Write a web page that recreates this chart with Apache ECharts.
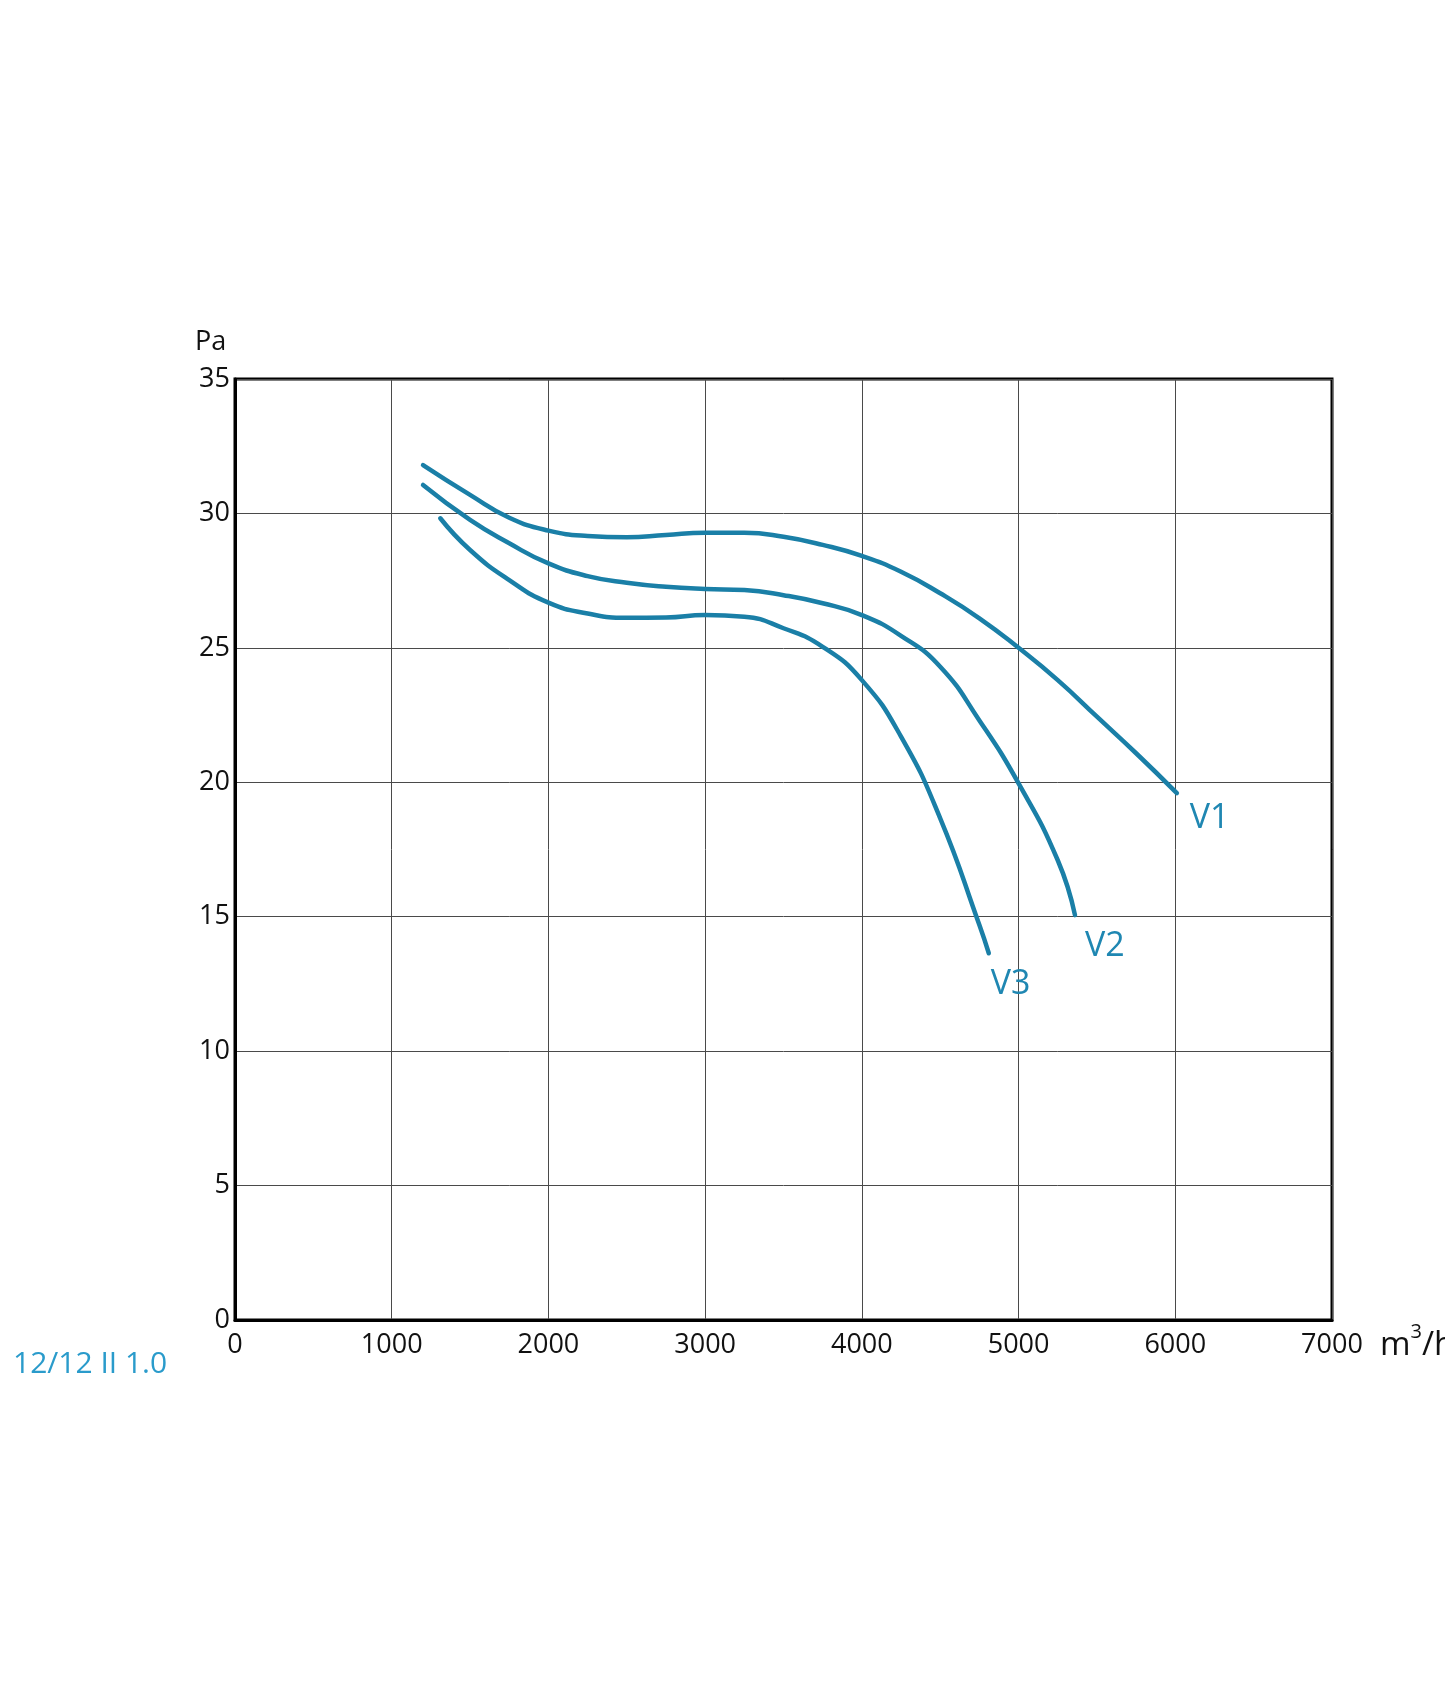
<!DOCTYPE html>
<html>
<head>
<meta charset="utf-8">
<script src="https://cdn.jsdelivr.net/npm/echarts@6/dist/echarts.min.js"></script>
<style>
html,body{margin:0;padding:0;background:#fff;}
#chart{width:1445px;height:1702px;}
</style>
</head>
<body>
<div id="chart"></div>
<script>
// Airflow (m3/h) and pressure (Pa)
const v1Flow = [1200, 1500, 1750, 2000, 2250, 2500, 2750, 3000, 3250, 3500, 3750, 4000, 4250, 4500, 4750, 5000, 5250, 5500, 5750, 6010];
const v1Pa   = [31.8, 30.69, 29.84, 29.36, 29.16, 29.11, 29.2, 29.28, 29.28, 29.13, 28.83, 28.42, 27.83, 27.03, 26.1, 25.0, 23.8, 22.44, 21.08, 19.6];
const v2Flow = [1200, 1500, 1750, 2000, 2250, 2500, 2750, 3000, 3250, 3500, 3750, 4000, 4250, 4500, 4750, 5000, 5250, 5360];
const v2Pa   = [31.06, 29.76, 28.89, 28.14, 27.67, 27.42, 27.27, 27.19, 27.15, 26.96, 26.66, 26.22, 25.45, 24.3, 22.3, 19.96, 17.1, 15.06];
const v3Flow = [1310, 1500, 1750, 2000, 2250, 2500, 2750, 3000, 3250, 3500, 3750, 4000, 4250, 4500, 4750, 4810];
const v3Pa   = [29.82, 28.64, 27.52, 26.68, 26.28, 26.12, 26.13, 26.22, 26.16, 25.73, 25.04, 23.8, 21.7, 18.66, 14.69, 13.64];
const seriesNames = ['V1', 'V2', 'V3'];
const xTicks = [0, 1000, 2000, 3000, 4000, 5000, 6000, 7000];
const yTicks = [0, 5, 10, 15, 20, 25, 30, 35];
const xUnit = 'm';
const xUnitSup = '3';
const xUnitTail = '/h';
const yUnit = 'Pa';
const modelLabel = '12/12 II 1.0';

const FONT = '"Open Sans", "Noto Sans", sans-serif';
const lineColor = '#1a7fa7';
const labelColor = '#1f87b2';

function pairs(xs, ys){ return xs.map((x,i)=>[x, ys[i]]); }

const labelOffsets = [[13, 25], [10, 31], [2, 31]];
const datasets = [pairs(v1Flow, v1Pa), pairs(v2Flow, v2Pa), pairs(v3Flow, v3Pa)];

const chart = echarts.init(document.getElementById('chart'), null, {renderer:'canvas'});
chart.setOption({
  backgroundColor: '#fff',
  animation: false,
  grid: {left: 235, top: 379, width: 1097, height: 941, show: true, borderColor: '#000', borderWidth: 3, backgroundColor: 'transparent'},
  xAxis: {
    type: 'value', min: xTicks[0], max: xTicks[xTicks.length-1], interval: 1000,
    axisLine: {show: true, lineStyle: {color: '#000', width: 3}},
    axisTick: {show: false},
    axisLabel: {color: '#111', fontFamily: FONT, fontSize: 27, margin: 12, showMaxLabel: true, showMinLabel: true,
      formatter: v => String(v)},
    splitLine: {show: true, lineStyle: {color: '#4a4a4a', width: 1}}
  },
  yAxis: {
    type: 'value', min: yTicks[0], max: yTicks[yTicks.length-1], interval: 5,
    axisLine: {show: true, lineStyle: {color: '#000', width: 3}},
    axisTick: {show: false},
    axisLabel: {color: '#111', fontFamily: FONT, fontSize: 27, margin: 5, showMaxLabel: true, showMinLabel: true,
      formatter: v => String(v)},
    splitLine: {show: true, lineStyle: {color: '#4a4a4a', width: 1}}
  },
  series: datasets.map((d, i) => ({
    name: seriesNames[i],
    type: 'line',
    data: d,
    smooth: 0.5,
    symbol: 'none',
    lineStyle: {color: lineColor, width: 4.5, cap: 'round'},
    endLabel: {
      show: true, formatter: '{a}', color: labelColor, fontFamily: FONT, fontSize: 34,
      distance: 0, align: 'left', verticalAlign: 'middle', offset: labelOffsets[i]
    }
  })),
  graphic: [
    {type: 'text', left: 195, top: 329, style: {text: yUnit, fontFamily: FONT, fontSize: 27, fill: '#111'}},
    {type: 'text', left: 1380, top: 1322, style: {
      text: '{b|' + xUnit + '}{s|' + xUnitSup + '}{b|' + xUnitTail + '}',
      rich: {
        b: {fontFamily: FONT, fontSize: 33, fill: '#111', color: '#111', verticalAlign: 'bottom', lineHeight: 40},
        s: {fontFamily: FONT, fontSize: 20, fill: '#111', color: '#111', verticalAlign: 'top', lineHeight: 40, padding: [0,0,14,0]}
      }
    }},
    {type: 'text', left: 13, top: 1349, style: {text: modelLabel, fontFamily: FONT, fontSize: 30, fill: '#2a9bcb'}}
  ]
});
</script>
</body>
</html>
